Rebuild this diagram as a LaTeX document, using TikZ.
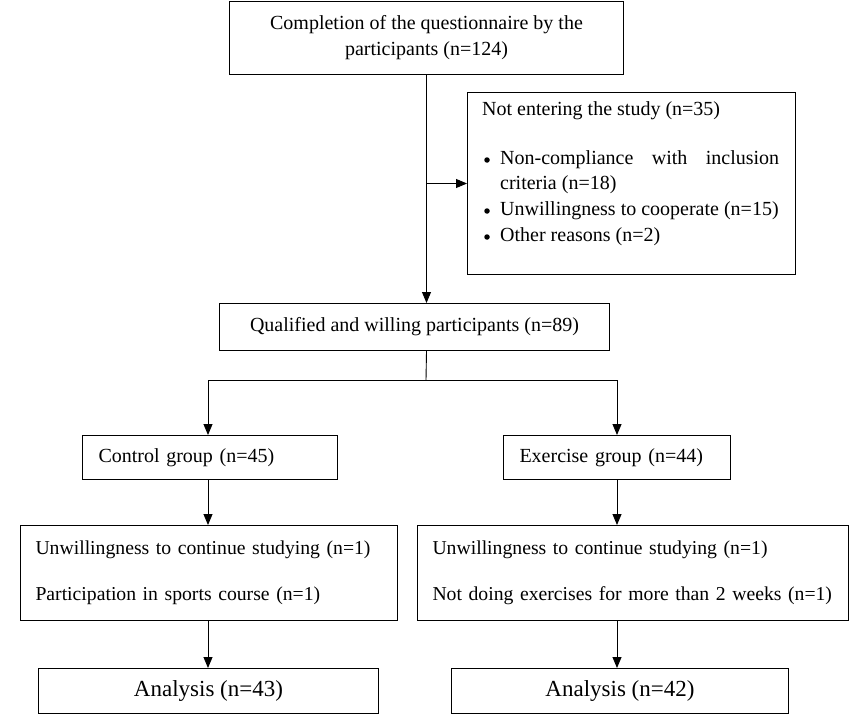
\documentclass[tikz,border=0pt]{standalone}
\usepackage{fontspec}
\setmainfont{Liberation Serif}
\usetikzlibrary{arrows.meta}
\begin{document}
\begin{tikzpicture}[x=1pt,y=-1pt,
  box/.style={draw=black, line width=1pt, inner sep=0pt, font=\fontsize{20}{24}\selectfont},
  txt/.style={inner sep=0pt, font=\fontsize{20}{24}\selectfont, text height=14pt, text depth=4pt},
  bul/.style={circle, fill=black, inner sep=0pt, minimum size=5.5pt},
  arr/.style={line width=0.9pt, -{Triangle[length=11pt,width=9pt]}},
  ln/.style={line width=0.9pt}]
\useasboundingbox[fill=white] (0,0) rectangle (864,725);

% top box
\node[box, anchor=north west, minimum width=394, minimum height=73, align=center] (top) at (229,1)
  {Completion of the questionnaire by the\\[2pt] participants (n=124)};

% not entering box
\node[box, anchor=north west, minimum width=328, minimum height=182] (nes) at (467,92) {};
\node[txt, anchor=west] (h) at (482,110) {Not entering the study (n=35)};
\node[bul] (b1) at (487,160) {};
\node[txt, anchor=west] (i1a) at (500,159) {\makebox[279pt][s]{Non-compliance with inclusion}};
\node[txt, anchor=west] (i1b) at (500,184) {criteria (n=18)};
\node[bul] (b2) at (487,211) {};
\node[txt, anchor=west] (i2) at (500,210) {Unwillingness to cooperate (n=15)};
\node[bul] (b3) at (487,237) {};
\node[txt, anchor=west] (i3) at (500,236) {Other reasons (n=2)};

% qualified
\node[box, anchor=north west, minimum width=390, minimum height=47] (qual) at (219,303)
  {Qualified and willing participants (n=89)};

% groups
\node[box, anchor=north west, minimum width=255, minimum height=44, text width=223pt, inner xsep=16pt, align=left] (ctrl) at (82,435)
  {Control group (n=45)};
\node[box, anchor=north west, minimum width=227, minimum height=44, text width=195pt, inner xsep=16pt, align=left] (ex) at (503,435)
  {Exercise group (n=44)};

% middle boxes
\node[box, anchor=north west, minimum width=377, minimum height=95, text width=347pt, inner xsep=15pt, align=left, font=\fontsize{19.7}{24}\selectfont] (ml) at (20,525)
  {Unwillingness to continue studying (n=1)\\[22pt] Participation in sports course (n=1)};
\node[box, anchor=north west, minimum width=431, minimum height=95, text width=401pt, inner xsep=15pt, align=left, font=\fontsize{19.7}{24}\selectfont] (mr) at (417,525)
  {Unwillingness to continue studying (n=1)\\[22pt] Not doing exercises for more than 2 weeks (n=1)};

% analysis
\node[box, anchor=north west, minimum width=340, minimum height=45, font=\fontsize{23}{27}\selectfont] (al) at (38,668)
  {Analysis (n=43)};
\node[box, anchor=north west, minimum width=337, minimum height=45, font=\fontsize{23}{27}\selectfont] (ar) at (451,668)
  {Analysis (n=42)};

% connectors
\draw[arr] (top.south) -- (top.south |- qual.north);
\coordinate (j) at (top.south |- nes.west);
\draw[arr] (j) -- (nes.west);
\coordinate (qs) at (top.south |- qual.south);
\coordinate (split) at (426,380);
\draw[ln] (qs) -- (split);
\coordinate (sl) at (208,380);
\coordinate (sr) at (617,380);
\draw[ln] (sl) -- (sr);
\draw[arr] (sl) -- (sl |- ctrl.north);
\draw[arr] (sr) -- (sr |- ex.north);
\draw[arr] (ctrl.south -| sl) -- (sl |- ml.north);
\draw[arr] (ex.south -| sr) -- (sr |- mr.north);
\draw[arr] (ml.south -| sl) -- (sl |- al.north);
\draw[arr] (mr.south -| sr) -- (sr |- ar.north);
\end{tikzpicture}
\end{document}
